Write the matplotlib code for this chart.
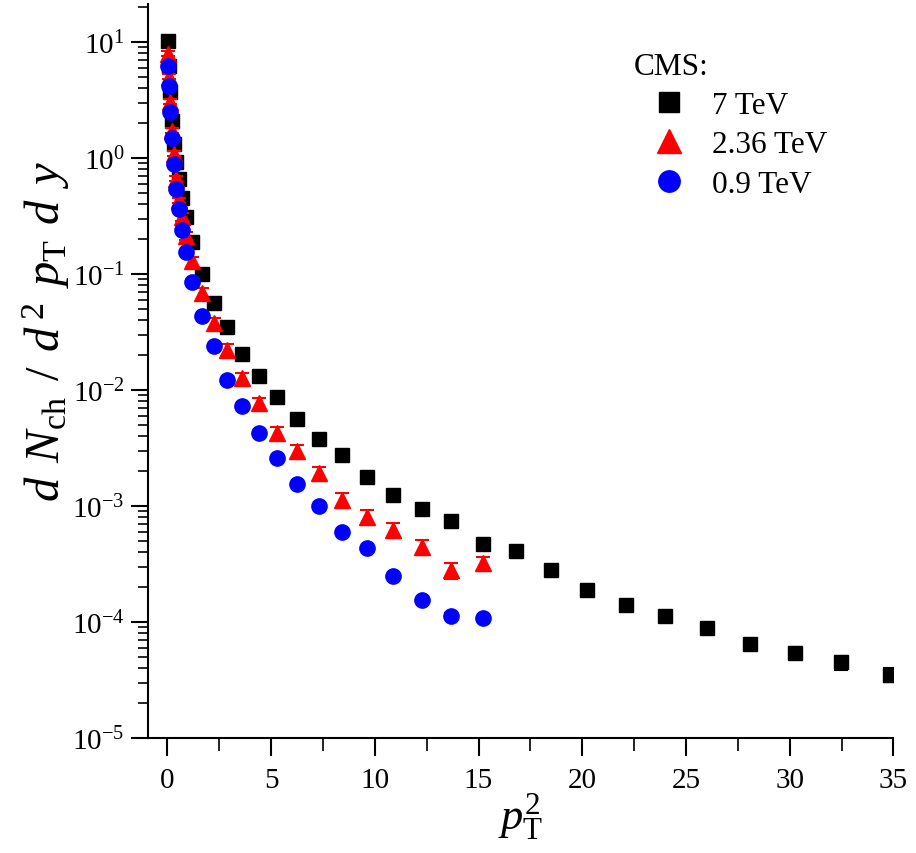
import matplotlib
matplotlib.use("Agg")
import matplotlib.pyplot as plt
import numpy as np
from matplotlib.ticker import FixedLocator, MultipleLocator, NullFormatter

plt.rcParams['font.family'] = ['Liberation Serif', 'DejaVu Serif']
plt.rcParams['mathtext.fontset'] = 'custom'
plt.rcParams['mathtext.rm'] = 'Liberation Serif'
plt.rcParams['mathtext.it'] = 'Liberation Serif:italic'

# 7 TeV (black squares)
x_7 = [0.0225, 0.0625, 0.1225, 0.2025, 0.3025, 0.4225, 0.5625, 0.7225, 0.9025,
       1.21, 1.69, 2.25, 2.89, 3.61, 4.41, 5.29, 6.25, 7.29, 8.41, 9.61, 10.89,
       12.25, 13.69, 15.21, 16.81, 18.49, 20.25, 22.09, 24.01, 26.01, 28.09,
       30.25, 32.49, 34.81]
y_7 = [10.2, 6.2, 3.71, 2.09, 1.33, 0.93, 0.66, 0.45, 0.31,
       0.19, 0.099, 0.0567, 0.0346, 0.0203, 0.0131, 0.00863, 0.00558, 0.00376,
       0.00274, 0.00177, 0.00124, 0.000938, 0.00074, 0.000469, 0.000408,
       0.00028, 0.000188, 0.00014, 0.000113, 8.9e-05, 6.4e-05, 5.4e-05,
       4.5e-05, 3.5e-05]
err_7_pct = [3, 3, 3, 3, 3, 3, 3, 3, 3, 3, 3, 3, 3, 3, 3, 3, 3, 3, 4, 4, 4, 4,
             5, 5, 6, 6, 6, 6, 7, 8, 10, 12, 14, 14]

# 2.36 TeV (red triangles)
x_236 = [0.0225, 0.0625, 0.1225, 0.2025, 0.3025, 0.4225, 0.5625, 0.7225, 0.9025,
         1.21, 1.69, 2.25, 2.89, 3.61, 4.41, 5.29, 6.25, 7.29, 8.41, 9.61, 10.89,
         12.25, 13.69, 15.21]
y_236 = [7.9, 5.0, 3.05, 1.71, 1.09, 0.66, 0.43, 0.31, 0.214,
         0.128, 0.0678, 0.0374, 0.0222, 0.0126, 0.00767, 0.00424, 0.00296,
         0.00191, 0.00112, 0.0008, 0.00062, 0.000442, 0.00028, 0.00032]
err_236_pct = [5, 5, 5, 5, 5, 5, 5, 8, 8, 10, 12, 12, 12, 12, 12, 12, 14, 14,
               15, 15, 15, 15, 16, 14]

# 0.9 TeV (blue circles)
x_09 = [0.0225, 0.0625, 0.1225, 0.2025, 0.3025, 0.4225, 0.5625, 0.7225, 0.9025,
        1.21, 1.69, 2.25, 2.89, 3.61, 4.41, 5.29, 6.25, 7.29, 8.41, 9.61, 10.89,
        12.25, 13.69, 15.21]
y_09 = [6.2, 4.18, 2.5, 1.49, 0.89, 0.54, 0.366, 0.237, 0.153,
        0.086, 0.0438, 0.0237, 0.0121, 0.00723, 0.00424, 0.00258, 0.00155,
        0.000996, 0.000595, 0.000433, 0.000249, 0.000155, 0.000113, 0.000108]
err_09_pct = [3, 3, 3, 3, 3, 3, 3, 3, 3, 3, 3, 3, 3, 3, 3, 3, 3, 3, 3, 3, 3,
              3, 5, 3]

labels = ['7 TeV', '2.36 TeV', '0.9 TeV']
y_decades = [-5, -4, -3, -2, -1, 0, 1]

fig = plt.figure(figsize=(9.16, 8.54), dpi=100)
ax = fig.add_axes([0.1612, 0.1347, 0.8142, 0.8594])

def draw(x, y, e, marker, color, ms, label):
    y = np.array(y)
    err = y * np.array(e) / 100.0
    ax.errorbar(x, y, yerr=err, fmt='none', ecolor=color, elinewidth=1.5,
                capsize=5, capthick=1.5)
    ax.plot(x, y, marker=marker, color=color, ms=ms, mec=color,
            linestyle='none', label=label)

draw(x_7, y_7, err_7_pct, 's', 'black', 10, labels[0])
draw(x_236, y_236, err_236_pct, '^', 'red', 12, labels[1])
draw(x_09, y_09, err_09_pct, 'o', 'blue', 11, labels[2])

ax.set_yscale('log')
ax.set_xlim(-0.95, 35.0)
ax.set_ylim(1e-5, 21.2)

ax.spines['top'].set_visible(False)
ax.spines['right'].set_visible(False)
for s in ['left', 'bottom']:
    ax.spines[s].set_linewidth(1.5)

ax.xaxis.set_major_locator(MultipleLocator(5))
ax.xaxis.set_minor_locator(MultipleLocator(2.5))
major_y = [10.0 ** d for d in y_decades]
minor_y = [m * 10.0 ** d for d in y_decades for m in range(2, 10)
           if m * 10.0 ** d <= 21.2]
ax.yaxis.set_major_locator(FixedLocator(major_y))
ax.yaxis.set_minor_locator(FixedLocator(minor_y))
ax.yaxis.set_minor_formatter(NullFormatter())

ax.tick_params(axis='both', which='major', direction='out', width=1.5,
               labelsize=21)
ax.tick_params(axis='both', which='minor', direction='out', width=1.2)
ax.tick_params(axis='y', which='major', length=12.5, pad=4)
ax.tick_params(axis='y', which='minor', length=7)
ax.tick_params(axis='x', which='major', length=13, pad=8)
ax.tick_params(axis='x', which='minor', length=9)

ax.set_xlabel(r'$p_{\rm T}^{2}$', fontsize=32, labelpad=-2)
ax.set_ylabel(r'$d\;\,N_{\rm ch}\;\,/\;\,d^{\,2}\;\,p_{\rm T}\;\,d\;\,y$',
              fontsize=35)
ax.yaxis.set_label_coords(-0.102, 0.555)

leg = ax.legend(loc='upper left', bbox_to_anchor=(0.635, 0.952), frameon=False,
                title='CMS:', fontsize=22.5, title_fontsize=22.5,
                alignment='left', handletextpad=0.27, labelspacing=0.33,
                markerscale=1.4, handlelength=2.25, borderaxespad=0)

fig.savefig('out.png', dpi=100)
